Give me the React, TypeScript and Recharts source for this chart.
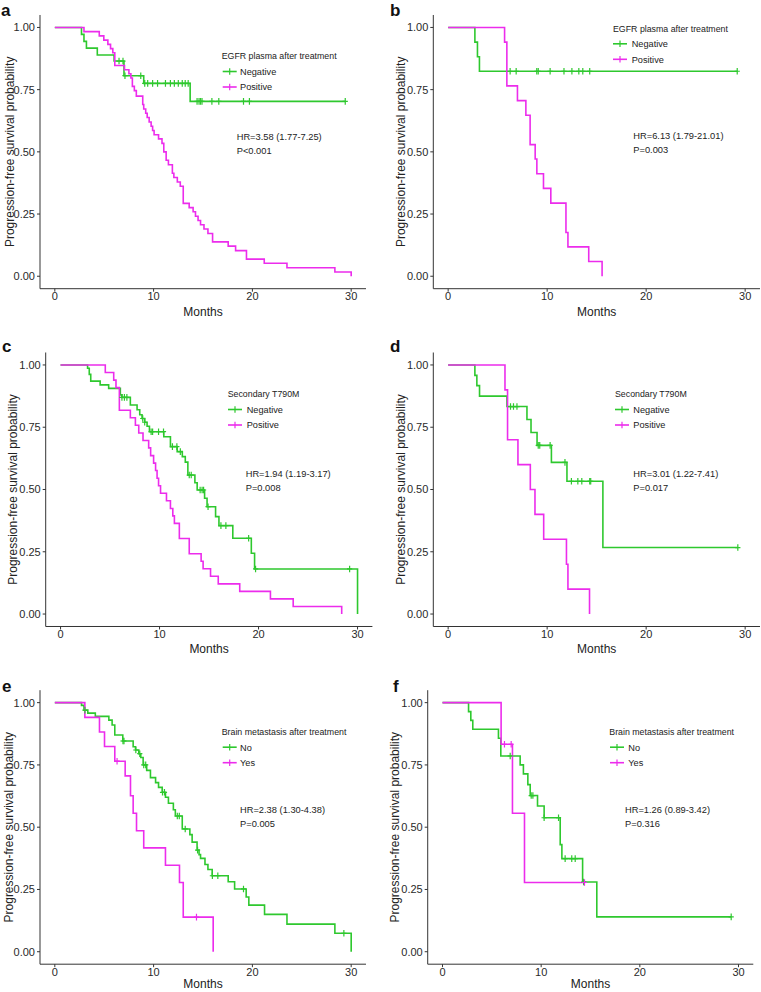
import { ComposedChart, Line, Scatter, XAxis, YAxis } from 'recharts'

const GREEN = '#2ec82e'
const MAGENTA = '#ec2cec'
const INK = '#222'
const FONT = '"Liberation Sans", Arial, Helvetica, sans-serif'

const xTicks = [0, 10, 20, 30]
const yTicks = [0, 0.25, 0.5, 0.75, 1]

// a: EGFR plasma after treatment (cohort 1)
const aNegTime = [0, 2.7, 2.95, 3.2, 4.3, 6.0, 7.0, 9.0, 13.7, 29.4]
const aNegSurv = [1, 0.972, 0.944, 0.917, 0.889, 0.865, 0.806, 0.775, 0.703, 0.703]
const aNegCens = [6.5, 6.9, 7.1, 8.7, 9.1, 9.4, 9.9, 10.4, 11.2, 11.7, 12.1, 12.5, 12.9, 13.2, 13.5, 14.4, 14.6, 14.75, 14.9, 15.9, 16.6, 19.1, 19.7, 29.4]
const aPosTime = [0, 2.95, 4.5, 4.96, 5.37, 5.64, 5.87, 6.07, 7.05, 7.5, 7.7, 7.85, 8.05, 8.25, 8.9, 9.0, 9.2, 9.35, 9.55, 9.75, 9.9, 10.05, 10.5, 10.85, 11.03, 11.27, 11.5, 11.9, 12.05, 12.4, 12.7, 13.0, 13.6, 14.0, 14.24, 14.5, 14.75, 15.1, 15.5, 15.97, 17.55, 18.3, 19.4, 21.2, 23.5, 28.35, 30]
const aPosSurv = [1, 0.983, 0.966, 0.949, 0.932, 0.915, 0.898, 0.847, 0.83, 0.814, 0.797, 0.763, 0.746, 0.724, 0.69, 0.672, 0.655, 0.638, 0.62, 0.603, 0.586, 0.569, 0.552, 0.534, 0.5, 0.466, 0.448, 0.414, 0.397, 0.379, 0.362, 0.293, 0.276, 0.259, 0.241, 0.224, 0.207, 0.19, 0.172, 0.138, 0.121, 0.103, 0.069, 0.052, 0.034, 0.017, 0]
const aPosCens: number[] = []

// b: EGFR plasma after treatment (cohort 2)
const bNegTime = [0, 2.7, 2.96, 3.16, 29.2]
const bNegSurv = [1, 0.941, 0.882, 0.824, 0.824]
const bNegCens = [6.26, 6.87, 8.95, 9.1, 10.3, 11.7, 12.5, 13.2, 13.6, 14.3, 29.2]
const bPosTime = [0, 5.7, 5.93, 7.0, 7.85, 8.28, 8.79, 8.96, 9.63, 10.37, 11.9, 12.1, 14.2, 15.55]
const bPosSurv = [1, 0.941, 0.765, 0.706, 0.647, 0.529, 0.471, 0.412, 0.353, 0.294, 0.176, 0.118, 0.059, 0]
const bPosCens: number[] = []

// c: Secondary T790M (cohort 1)
const cNegTime = [0, 2.73, 2.9, 3.05, 4.0, 4.86, 6.04, 6.2, 7.05, 7.73, 8.0, 8.23, 8.5, 8.74, 8.98, 10.43, 11.1, 11.78, 12.3, 12.6, 12.86, 13.57, 13.8, 14.55, 14.8, 15.66, 16.0, 17.4, 19.27, 19.6, 30]
const cNegSurv = [1, 0.987, 0.962, 0.935, 0.92, 0.906, 0.88, 0.87, 0.839, 0.82, 0.8, 0.785, 0.77, 0.754, 0.732, 0.712, 0.672, 0.652, 0.632, 0.61, 0.558, 0.527, 0.498, 0.465, 0.431, 0.391, 0.355, 0.304, 0.244, 0.181, 0]
const cNegCens = [6.2, 6.45, 6.7, 8.3, 8.5, 9.15, 9.3, 9.9, 10.4, 11.3, 11.75, 12.1, 13.0, 13.2, 14.1, 14.3, 14.45, 14.9, 16.2, 16.7, 19.0, 19.7, 29.2]
const cPosTime = [0, 4.52, 5.37, 5.6, 5.94, 7.05, 7.56, 7.9, 8.33, 8.9, 9.1, 9.4, 9.6, 9.75, 9.9, 10.1, 10.7, 11.1, 11.34, 11.5, 12.0, 13.0, 14.2, 14.4, 15.15, 15.93, 18.1, 21.2, 23.5, 28.4]
const cPosSurv = [1, 0.97, 0.939, 0.909, 0.818, 0.788, 0.758, 0.727, 0.697, 0.667, 0.636, 0.606, 0.576, 0.545, 0.515, 0.485, 0.455, 0.424, 0.394, 0.364, 0.303, 0.242, 0.212, 0.182, 0.152, 0.121, 0.091, 0.061, 0.03, 0]
const cPosCens: number[] = []

// d: Secondary T790M (cohort 2)
const dNegTime = [0, 2.7, 2.9, 3.17, 5.94, 7.96, 8.37, 8.98, 10.43, 12.0, 15.63, 29.26]
const dNegSurv = [1, 0.958, 0.917, 0.875, 0.833, 0.781, 0.729, 0.677, 0.609, 0.533, 0.267, 0.267]
const dNegCens = [6.3, 6.6, 6.95, 9.1, 9.25, 10.3, 11.8, 12.45, 13.1, 13.5, 14.3, 14.4, 29.26]
const dPosTime = [0, 5.74, 6.0, 7.05, 8.3, 8.77, 9.65, 11.95, 12.1, 14.28]
const dPosSurv = [1, 0.9, 0.7, 0.6, 0.5, 0.4, 0.3, 0.2, 0.1, 0]
const dPosCens: number[] = []

// e: Brain metastasis after treatment (cohort 1)
const eNoTime = [0, 2.7, 2.95, 3.34, 4.1, 5.47, 5.8, 6.07, 6.88, 7.93, 8.17, 8.5, 8.7, 8.94, 9.3, 9.68, 10.2, 10.5, 10.87, 11.2, 11.5, 12.0, 12.2, 12.9, 13.67, 13.9, 14.4, 14.6, 14.75, 15.2, 15.5, 15.93, 17.55, 18.2, 19.37, 19.64, 21.23, 23.5, 28.35, 30]
const eNoSurv = [1, 0.989, 0.97, 0.958, 0.945, 0.93, 0.91, 0.87, 0.846, 0.823, 0.81, 0.795, 0.78, 0.75, 0.728, 0.699, 0.679, 0.66, 0.64, 0.62, 0.596, 0.57, 0.545, 0.493, 0.47, 0.44, 0.408, 0.39, 0.375, 0.35, 0.33, 0.305, 0.281, 0.252, 0.22, 0.187, 0.15, 0.111, 0.074, 0]
const eNoCens = [3.05, 6.9, 7.0, 8.2, 8.6, 9.0, 9.2, 10.9, 11.1, 12.4, 12.6, 13.2, 14.45, 15.95, 16.5, 19.1, 29.26]
const eYesTime = [0, 3.04, 4.52, 5.03, 6.07, 7.12, 7.66, 7.93, 8.27, 9.0, 11.2, 12.62, 13.0, 16.03]
const eYesSurv = [1, 0.941, 0.882, 0.824, 0.765, 0.706, 0.626, 0.556, 0.486, 0.417, 0.347, 0.278, 0.139, 0]
const eYesCens = [6.3, 14.34]

// f: Brain metastasis after treatment (cohort 2)
const fNoTime = [0, 2.64, 2.87, 3.07, 5.67, 5.91, 7.87, 8.2, 8.65, 8.89, 9.63, 10.3, 11.93, 12.1, 14.2, 15.64, 29.26]
const fNoSurv = [1, 0.964, 0.929, 0.893, 0.857, 0.786, 0.75, 0.714, 0.671, 0.627, 0.585, 0.538, 0.43, 0.374, 0.28, 0.14, 0.14]
const fNoCens = [6.86, 8.99, 9.16, 10.3, 11.76, 12.43, 13.1, 13.45, 14.3, 29.26]
const fYesTime = [0, 5.94, 7.09, 8.31, 14.39]
const fYesSurv = [1, 0.833, 0.556, 0.278, 0.278]
const fYesCens = [6.28, 6.96, 14.39]

type Row = { t: number; s: number }

function toRows(time: number[], surv: number[]): Row[] {
  return time.map((t, i) => ({ t, s: surv[i] }))
}

// censor marks sit on the curve at the time they occur
function censorRows(time: number[], surv: number[], cens: number[]): Row[] {
  return cens.map((c) => {
    let s = surv[0]
    time.forEach((t, i) => {
      if (t <= c) s = surv[i]
    })
    return { t: c, s }
  })
}

type Curve = { name: string; color: string; time: number[]; surv: number[]; cens: number[] }

type Layout = {
  left: number
  top: number
  plotLeft: number
  plotTop: number
  plotRight: number
  plotBottom: number
  axisH: number
  yLabelX: number
  letterX: number
  letterY: number
  legendX: number
  legendY: number
  keyX: number
  textX: number
  hrX: number
  hrY: number
}

function Plus({ cx, cy, color }: { cx?: number; cy?: number; color: string }) {
  if (cx == null || cy == null) return null
  return (
    <g stroke={color} strokeWidth={1.2}>
      <line x1={cx} x2={cx} y1={cy - 3.3} y2={cy + 3.3} />
      <line x1={cx - 2.6} x2={cx + 2.6} y1={cy} y2={cy} />
    </g>
  )
}

function Panel({
  letter,
  legendTitle,
  curves,
  hr,
  p,
  L,
}: {
  letter: string
  legendTitle: string
  curves: Curve[]
  hr: string
  p: string
  L: Layout
}) {
  const width = L.plotRight - L.left + 1
  const height = L.plotBottom - L.top + L.axisH + 2
  const ox = (x: number) => x - L.left
  const oy = (y: number) => y - L.top
  const axisStyle = { stroke: '#333', strokeWidth: 1 }

  return (
    <div style={{ position: 'absolute', left: L.left, top: L.top, width, height }}>
      <ComposedChart
        width={width}
        height={height}
        margin={{ top: L.plotTop - L.top, right: 1, bottom: 2, left: 0 }}
        style={{ fontFamily: FONT }}
      >
        <XAxis
          type="number"
          dataKey="t"
          domain={[-1.5, 31.5]}
          ticks={xTicks}
          allowDataOverflow
          height={L.axisH}
          tickSize={3}
          tickMargin={1}
          axisLine={axisStyle}
          tickLine={axisStyle}
          tick={{ fontSize: 11, fill: '#2a2a2a' }}
          label={{ value: 'Months', position: 'insideBottom', offset: 0, style: { fontSize: 12, fill: INK } }}
        />
        <YAxis
          type="number"
          dataKey="s"
          domain={[-0.05, 1.05]}
          ticks={yTicks}
          allowDataOverflow
          width={L.plotLeft - L.left}
          tickSize={3}
          tickMargin={2}
          axisLine={axisStyle}
          tickLine={axisStyle}
          tickFormatter={(v: number) => v.toFixed(2)}
          tick={{ fontSize: 11, fill: '#2a2a2a' }}
          label={{
            value: 'Progression-free survival probability',
            angle: -90,
            position: 'insideLeft',
            offset: L.yLabelX - L.left,
            style: { textAnchor: 'middle', fontSize: 12, fill: INK },
          }}
        />
        {curves.map((c) => (
          <Line
            key={c.name}
            data={toRows(c.time, c.surv)}
            dataKey="s"
            type="stepAfter"
            stroke={c.color}
            strokeWidth={1.6}
            dot={false}
            isAnimationActive={false}
          />
        ))}
        {curves.map((c) => (
          <Scatter
            key={c.name + '-cens'}
            data={censorRows(c.time, c.surv, c.cens)}
            fill={c.color}
            shape={(props: any) => <Plus cx={props.cx} cy={props.cy} color={c.color} />}
            isAnimationActive={false}
          />
        ))}
      </ComposedChart>

      <svg
        width={width}
        height={height}
        style={{ position: 'absolute', left: 0, top: 0, pointerEvents: 'none', fontFamily: FONT }}
      >
        <text x={ox(L.letterX)} y={oy(L.letterY)} fontSize={17} fontWeight="bold" fill="#111">
          {letter}
        </text>
        <text x={ox(L.legendX)} y={oy(L.legendY) + 3.2} fontSize={8.8} fill={INK}>
          {legendTitle}
        </text>
        {curves.map((c, i) => {
          const cy = oy(L.legendY) + 15.5 * (i + 1)
          const kx = ox(L.keyX)
          return (
            <g key={c.name}>
              <line x1={kx} x2={kx + 14} y1={cy} y2={cy} stroke={c.color} strokeWidth={1.6} />
              <line x1={kx + 7} x2={kx + 7} y1={cy - 3.3} y2={cy + 3.3} stroke={c.color} strokeWidth={1.2} />
              <text x={ox(L.textX)} y={cy + 3.3} fontSize={9.2} fill={INK}>
                {c.name}
              </text>
            </g>
          )
        })}
        <text x={ox(L.hrX)} y={oy(L.hrY) + 3.3} fontSize={9.3} fill={INK}>
          {hr}
        </text>
        <text x={ox(L.hrX)} y={oy(L.hrY) + 17.3} fontSize={9.3} fill={INK}>
          {p}
        </text>
      </svg>
    </div>
  )
}

const layoutA: Layout = { left: 0, top: 0, plotLeft: 40, plotTop: 15, plotRight: 366, plotBottom: 288.7, axisH: 27, yLabelX: 10, letterX: 1, letterY: 16, legendX: 221.7, legendY: 56, keyX: 222.7, textX: 240, hrX: 236.7, hrY: 136.7 }
const layoutB: Layout = { left: 380, top: 0, plotLeft: 433.3, plotTop: 15, plotRight: 760, plotBottom: 288.7, axisH: 27, yLabelX: 400.7, letterX: 390, letterY: 16, legendX: 613, legendY: 28.3, keyX: 613, textX: 631.7, hrX: 633.3, hrY: 136 }
const layoutC: Layout = { left: 0, top: 320, plotLeft: 45.7, plotTop: 352.5, plotRight: 372.4, plotBottom: 626.5, axisH: 26.5, yLabelX: 12.7, letterX: 2, letterY: 352, legendX: 227.7, legendY: 394, keyX: 228, textX: 246.7, hrX: 245.7, hrY: 473.3 }
const layoutD: Layout = { left: 380, top: 320, plotLeft: 433.3, plotTop: 352.5, plotRight: 760, plotBottom: 626.5, axisH: 26.5, yLabelX: 400.7, letterX: 390, letterY: 352, legendX: 615, legendY: 394, keyX: 615, textX: 633.3, hrX: 633.3, hrY: 473.3 }
const layoutE: Layout = { left: 0, top: 650, plotLeft: 40, plotTop: 690.2, plotRight: 366, plotBottom: 964.2, axisH: 24, yLabelX: 8.3, letterX: 2, letterY: 692, legendX: 221.7, legendY: 731.7, keyX: 222.7, textX: 240, hrX: 240, hrY: 809.3 }
const layoutF: Layout = { left: 380, top: 650, plotLeft: 427.7, plotTop: 690.2, plotRight: 753.3, plotBottom: 964.2, axisH: 24, yLabelX: 395, letterX: 393, letterY: 692, legendX: 609.3, legendY: 731.7, keyX: 610, textX: 628.3, hrX: 625, hrY: 809.3 }

export default function App() {
  return (
    <div
      style={{
        position: 'absolute',
        left: 0,
        top: 0,
        width: 761,
        height: 992,
        overflow: 'hidden',
        background: '#fff',
        fontFamily: FONT,
      }}
    >
      <Panel
        letter="a"
        legendTitle="EGFR plasma after treatment"
        hr="HR=3.58 (1.77-7.25)"
        p="P<0.001"
        L={layoutA}
        curves={[
          { name: 'Negative', color: GREEN, time: aNegTime, surv: aNegSurv, cens: aNegCens },
          { name: 'Positive', color: MAGENTA, time: aPosTime, surv: aPosSurv, cens: aPosCens },
        ]}
      />
      <Panel
        letter="b"
        legendTitle="EGFR plasma after treatment"
        hr="HR=6.13 (1.79-21.01)"
        p="P=0.003"
        L={layoutB}
        curves={[
          { name: 'Negative', color: GREEN, time: bNegTime, surv: bNegSurv, cens: bNegCens },
          { name: 'Positive', color: MAGENTA, time: bPosTime, surv: bPosSurv, cens: bPosCens },
        ]}
      />
      <Panel
        letter="c"
        legendTitle="Secondary T790M"
        hr="HR=1.94 (1.19-3.17)"
        p="P=0.008"
        L={layoutC}
        curves={[
          { name: 'Negative', color: GREEN, time: cNegTime, surv: cNegSurv, cens: cNegCens },
          { name: 'Positive', color: MAGENTA, time: cPosTime, surv: cPosSurv, cens: cPosCens },
        ]}
      />
      <Panel
        letter="d"
        legendTitle="Secondary T790M"
        hr="HR=3.01 (1.22-7.41)"
        p="P=0.017"
        L={layoutD}
        curves={[
          { name: 'Negative', color: GREEN, time: dNegTime, surv: dNegSurv, cens: dNegCens },
          { name: 'Positive', color: MAGENTA, time: dPosTime, surv: dPosSurv, cens: dPosCens },
        ]}
      />
      <Panel
        letter="e"
        legendTitle="Brain metastasis after treatment"
        hr="HR=2.38 (1.30-4.38)"
        p="P=0.005"
        L={layoutE}
        curves={[
          { name: 'No', color: GREEN, time: eNoTime, surv: eNoSurv, cens: eNoCens },
          { name: 'Yes', color: MAGENTA, time: eYesTime, surv: eYesSurv, cens: eYesCens },
        ]}
      />
      <Panel
        letter="f"
        legendTitle="Brain metastasis after treatment"
        hr="HR=1.26 (0.89-3.42)"
        p="P=0.316"
        L={layoutF}
        curves={[
          { name: 'No', color: GREEN, time: fNoTime, surv: fNoSurv, cens: fNoCens },
          { name: 'Yes', color: MAGENTA, time: fYesTime, surv: fYesSurv, cens: fYesCens },
        ]}
      />
    </div>
  )
}
